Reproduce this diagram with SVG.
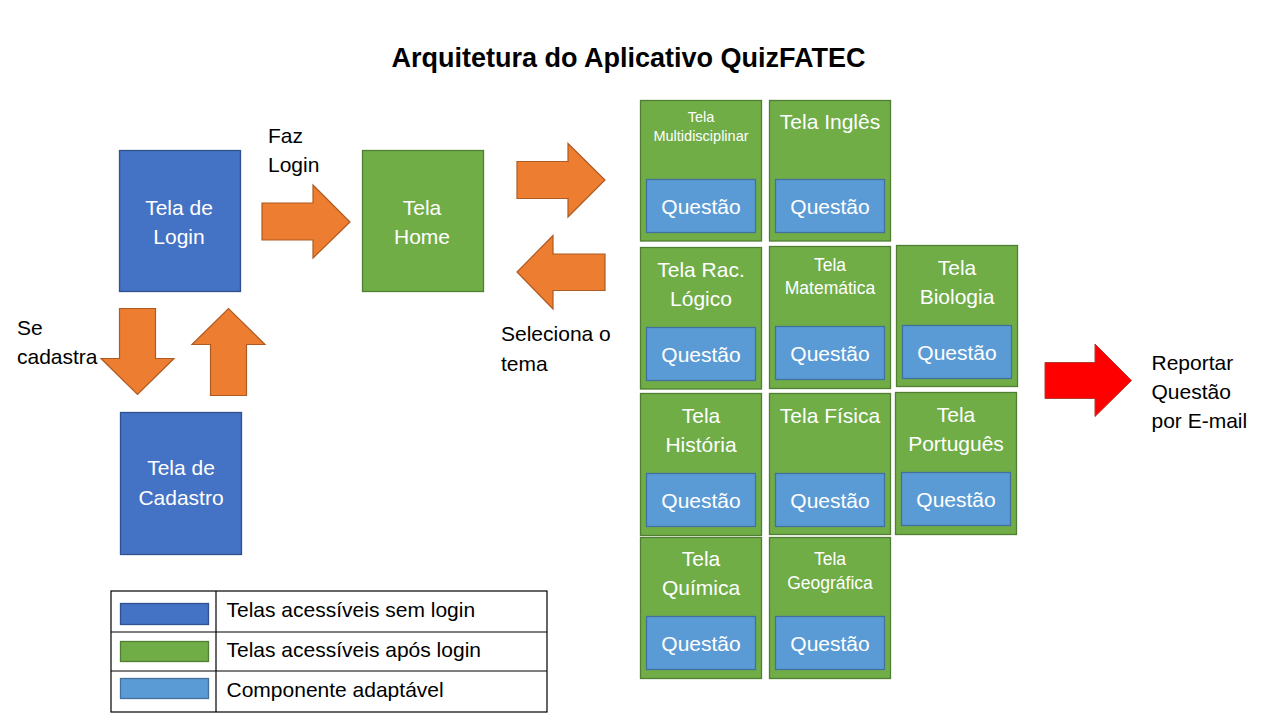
<svg xmlns="http://www.w3.org/2000/svg" width="1280" height="720" viewBox="0 0 1280 720">
<style>
.t{font-family:"Liberation Sans",Arial,sans-serif;}
.w{fill:#fff;text-anchor:middle;}
.b{fill:#000;}
.L{font-size:21px;}
.M{font-size:17.5px;}
.S{font-size:14.5px;}
.blue{fill:#4472C4;stroke:#2F528F;stroke-width:1.3;}
.green{fill:#70AD47;stroke:#507E32;stroke-width:1.3;}
.lb{fill:#5B9BD5;stroke:#41719C;stroke-width:1.3;}
.or{fill:#ED7D31;stroke:#AE5A21;stroke-width:1.2;}
.red{fill:#FF0000;stroke:#B03A2E;stroke-width:1;}
.grid{fill:none;stroke:#000;stroke-width:1.2;}
</style>
<rect width="1280" height="720" fill="#fff"/>
<text class="t" x="628.5" y="67" font-size="27" font-weight="bold" text-anchor="middle" fill="#000">Arquitetura do Aplicativo QuizFATEC</text>

<g id="login"><rect class="blue" x="119.5" y="150.5" width="121" height="141"/><text class="t w L" x="179" y="214.5">Tela de</text><text class="t w L" x="179" y="244">Login</text></g>
<g id="cadastro"><rect class="blue" x="120.5" y="412.5" width="121" height="142"/><text class="t w L" x="181" y="475">Tela de</text><text class="t w L" x="181" y="504.5">Cadastro</text></g>
<g id="home"><rect class="green" x="362.5" y="150.5" width="121" height="141"/><text class="t w L" x="422" y="214.5">Tela</text><text class="t w L" x="422" y="244">Home</text></g>

<g id="multidisciplinar"><rect class="green" x="640.5" y="100.5" width="121" height="140.5"/><text class="t w S" x="701" y="121.5">Tela</text><text class="t w S" x="701" y="140.5">Multidisciplinar</text><rect class="lb" x="646.5" y="179.5" width="109" height="53"/><text class="t w L" x="701" y="213.5">Questão</text></g>
<g id="ingles"><rect class="green" x="769.5" y="100.5" width="121" height="140.5"/><text class="t w L" x="830" y="128.5">Tela Inglês</text><rect class="lb" x="775.5" y="179.5" width="109" height="53"/><text class="t w L" x="830" y="213.5">Questão</text></g>

<g id="raclogico"><rect class="green" x="640.5" y="247.5" width="121" height="141.5"/><text class="t w L" x="701" y="276.5">Tela Rac.</text><text class="t w L" x="701" y="305.5">Lógico</text><rect class="lb" x="646.5" y="327.5" width="109" height="53"/><text class="t w L" x="701" y="361.5">Questão</text></g>
<g id="matematica"><rect class="green" x="769.5" y="246.5" width="121" height="142"/><text class="t w M" x="830" y="271">Tela</text><text class="t w M" x="830" y="294">Matemática</text><rect class="lb" x="775.5" y="326.5" width="109" height="53"/><text class="t w L" x="830" y="360.5">Questão</text></g>
<g id="biologia"><rect class="green" x="896.5" y="245.5" width="121" height="141"/><text class="t w L" x="957" y="275">Tela</text><text class="t w L" x="957" y="303.5">Biologia</text><rect class="lb" x="902.5" y="325.5" width="109" height="53"/><text class="t w L" x="957" y="359.5">Questão</text></g>

<g id="historia"><rect class="green" x="640.5" y="393.5" width="121" height="142"/><text class="t w L" x="701" y="422.5">Tela</text><text class="t w L" x="701" y="451.5">História</text><rect class="lb" x="646.5" y="473.5" width="109" height="53"/><text class="t w L" x="701" y="507.5">Questão</text></g>
<g id="fisica"><rect class="green" x="769.5" y="393.5" width="121" height="141"/><text class="t w L" x="830" y="422.5">Tela Física</text><rect class="lb" x="775.5" y="473.5" width="109" height="53"/><text class="t w L" x="830" y="507.5">Questão</text></g>
<g id="portugues"><rect class="green" x="895.5" y="392.5" width="121" height="142"/><text class="t w L" x="956" y="421.5">Tela</text><text class="t w L" x="956" y="450.5">Português</text><rect class="lb" x="901.5" y="472.5" width="109" height="53"/><text class="t w L" x="956" y="506.5">Questão</text></g>

<g id="quimica"><rect class="green" x="640.5" y="537.5" width="121" height="141"/><text class="t w L" x="701" y="565.5">Tela</text><text class="t w L" x="701" y="594.5">Química</text><rect class="lb" x="646.5" y="616.5" width="109" height="53"/><text class="t w L" x="701" y="650.5">Questão</text></g>
<g id="geografica"><rect class="green" x="769.5" y="537.5" width="121" height="141"/><text class="t w M" x="830" y="564.5">Tela</text><text class="t w M" x="830" y="589">Geográfica</text><rect class="lb" x="775.5" y="616.5" width="109" height="53"/><text class="t w L" x="830" y="650.5">Questão</text></g>

<g id="connectors">
<polygon class="or" points="262,203 313,203 313,185 350,222 313,258 313,240 262,240"/>
<polygon class="or" points="517,161.5 568,161.5 568,143.5 605,180 568,217 568,198.5 517,198.5"/>
<polygon class="or" points="605,254 553,254 553,235.5 517,272 553,309 553,290.5 605,290.5"/>
<polygon class="or" points="119.5,308.5 155.5,308.5 155.5,358.5 174,358.5 137.5,394.5 101,358.5 119.5,358.5"/>
<polygon class="or" points="210.5,395.5 246.5,395.5 246.5,344.5 265,344.5 228.5,308.5 192,344.5 210.5,344.5"/>
<polygon class="red" points="1045,362.5 1095,362.5 1095,344 1131.5,380.5 1095,416.5 1095,398.5 1045,398.5"/>
</g>

<g id="labels">
<text class="t b L" x="268" y="142.5">Faz</text>
<text class="t b L" x="268" y="172">Login</text>
<text class="t b L" x="501" y="341">Seleciona o</text>
<text class="t b L" x="501" y="370.5">tema</text>
<text class="t b L" x="17" y="335">Se</text>
<text class="t b L" x="17" y="364">cadastra</text>
<text class="t b L" x="1151.5" y="369.5">Reportar</text>
<text class="t b L" x="1151.5" y="399">Questão</text>
<text class="t b L" x="1151.5" y="427.5">por E-mail</text>
</g>

<g id="legend">
<rect class="grid" x="111" y="591" width="436" height="121"/>
<line class="grid" x1="111" y1="632" x2="547" y2="632"/>
<line class="grid" x1="111" y1="671" x2="547" y2="671"/>
<line class="grid" x1="216" y1="591" x2="216" y2="712"/>
<rect class="blue" x="120.5" y="603.5" width="88" height="21"/>
<rect class="green" x="120.5" y="641.5" width="88" height="20"/>
<rect class="lb" x="120.5" y="678.5" width="88" height="20"/>
<text class="t b L" x="226.5" y="617">Telas acessíveis sem login</text>
<text class="t b L" x="226.5" y="657">Telas acessíveis após login</text>
<text class="t b L" x="226.5" y="697">Componente adaptável</text>
</g>
</svg>
